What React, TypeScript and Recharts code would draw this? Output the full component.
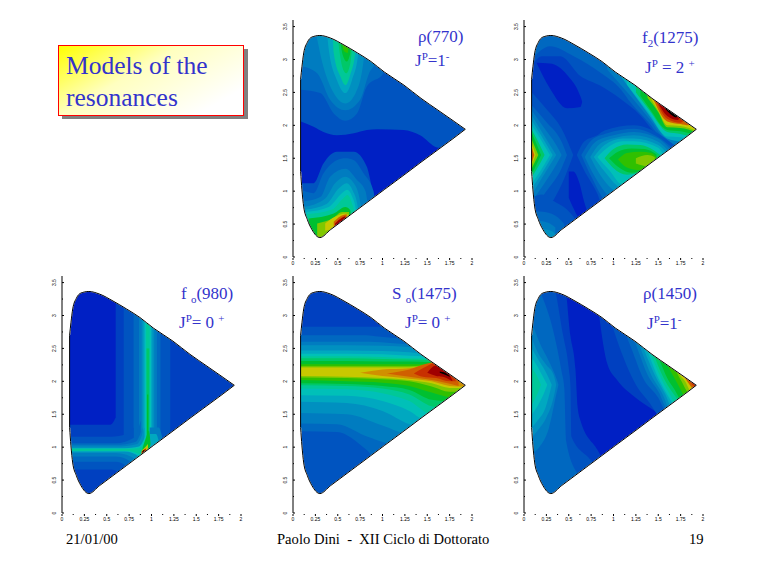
import { Area, ComposedChart, Line, XAxis, YAxis } from "recharts";

type Pt = [number, number, number];
type Band = [number, Pt[]];

const TOP = 3.6;

// colour steps of the map, low to high
const levelColors = [
  "#0020c4", "#0040c0", "#0054c0", "#0068c0", "#007cc0", "#0090c0", "#00a8c0",
  "#00c0b8", "#00c898", "#00c868", "#00c030", "#30c000", "#80c800", "#c8c800",
  "#d09000", "#d06000", "#c83000", "#a00000", "#000000",
];

const xTicks = [0, 0.125, 0.25, 0.375, 0.5, 0.625, 0.75, 0.875, 1, 1.125, 1.25, 1.375, 1.5, 1.625, 1.75, 1.875, 2];
const xLabels = [0, 0.25, 0.5, 0.75, 1, 1.25, 1.5, 1.75, 2];
const yTicks = [0, 0.25, 0.5, 0.75, 1, 1.25, 1.5, 1.75, 2, 2.25, 2.5, 2.75, 3, 3.25, 3.5];
const yLabels = [0, 0.5, 1, 1.5, 2, 2.5, 3, 3.5];

// x, lower edge, upper edge of the allowed region
const boundary: Pt[] = [
  [0.085, 1.3, 2.7], [0.1, 1.02, 2.89], [0.12, 0.76, 3.1], [0.16, 0.57, 3.26], [0.21, 0.42, 3.34],
  [0.3, 0.295, 3.365], [0.42, 0.416, 3.325], [0.57, 0.568, 3.22], [0.72, 0.72, 3.1], [0.87, 0.872, 2.97],
  [1.02, 1.024, 2.81], [1.24, 1.246, 2.61], [1.43, 1.44, 2.41], [1.62, 1.63, 2.23], [1.8, 1.81, 2.06],
  [1.925, 1.94, 1.94],
];
const leftEdge = [{ x: 0.085, y: 1.3 }, { x: 0.085, y: 2.7 }];

const over = (pts: [number, number][]): Pt[] => pts.map(([x, lo]) => [x, lo, TOP]);
const under = (pts: [number, number][]): Pt[] => pts.map(([x, hi]) => [x, 0, hi]);
const full: Pt[] = [[0.088, 0, TOP], [1.92, 0, TOP]];

const rho770Bands: Band[] = [
  [2, full],
  [0, [[0.088, 1.12, 2.06], [0.23, 1.12, 1.98], [0.34, 1.42, 1.9], [0.49, 1.6, 1.85], [0.68, 1.6, 1.88], [0.825, 1.37, 1.93], [0.94, 0.8, 1.94], [1.235, 0.9, 1.93], [1.42, 1.0, 1.85], [1.61, 1.5, 1.665], [1.645, 1.66, 1.66]]],
  [3, over([[0.088, 2.54], [0.305, 2.49], [0.455, 2.18], [0.585, 2.07], [0.715, 2.18], [0.825, 2.59], [1.01, 2.79], [1.05, 3.6]])],
  [4, over([[0.088, 2.9], [0.27, 2.79], [0.415, 2.39], [0.585, 2.23], [0.75, 2.39], [0.85, 2.79], [0.93, 3.0], [0.96, 3.6]])],
  [5, over([[0.23, 3.6], [0.34, 2.89], [0.455, 2.49], [0.585, 2.33], [0.7, 2.49], [0.79, 3.0], [0.83, 3.6]])],
  [6, over([[0.37, 3.6], [0.4, 3.15], [0.49, 2.69], [0.585, 2.49], [0.66, 2.69], [0.73, 3.1], [0.76, 3.6]])],
  [8, over([[0.44, 3.6], [0.455, 3.1], [0.53, 2.74], [0.585, 2.61], [0.64, 2.77], [0.7, 3.15], [0.72, 3.6]])],
  [9, over([[0.48, 3.6], [0.55, 2.89], [0.595, 2.79], [0.64, 2.94], [0.68, 3.6]])],
  [10, over([[0.5, 3.6], [0.56, 3.05], [0.6, 2.97], [0.64, 3.1], [0.66, 3.6]])],
  [11, over([[0.52, 3.6], [0.575, 3.12], [0.61, 3.1], [0.64, 3.6]])],
  [3, under([[0.088, 1.02], [0.23, 0.97], [0.34, 1.27], [0.49, 1.47], [0.585, 1.5], [0.68, 1.47], [0.79, 1.27], [0.9, 1.0], [0.95, 0]])],
  [4, under([[0.1, 0.84], [0.305, 0.91], [0.415, 1.22], [0.585, 1.34], [0.715, 1.17], [0.81, 1.0], [0.88, 0]])],
  [5, under([[0.12, 0.76], [0.36, 0.89], [0.47, 1.12], [0.585, 1.22], [0.68, 1.12], [0.75, 0.84], [0.82, 0]])],
  [6, under([[0.14, 0.72], [0.38, 0.81], [0.51, 1.04], [0.6, 1.12], [0.67, 1.0], [0.72, 0.79], [0.78, 0]])],
  [7, under([[0.15, 0.685], [0.4, 0.76], [0.54, 0.96], [0.605, 1.02], [0.66, 0.92], [0.7, 0.74], [0.74, 0]])],
  [8, under([[0.155, 0.65], [0.435, 0.72], [0.56, 0.89], [0.61, 0.94], [0.66, 0.81], [0.68, 0.71], [0.7, 0]])],
  [10, under([[0.175, 0.585], [0.455, 0.66], [0.585, 0.76], [0.64, 0.71], [0.66, 0]])],
  [12, under([[0.27, 0.51], [0.44, 0.585], [0.55, 0.685], [0.625, 0.685], [0.64, 0]])],
  [13, [[0.36, 0.4, 0.51], [0.47, 0.45, 0.61], [0.585, 0.55, 0.66], [0.62, 0.6, 0.64]]],
  [15, [[0.455, 0.44, 0.535], [0.53, 0.5, 0.62], [0.6, 0.6, 0.65]]],
  [17, [[0.47, 0.45, 0.51], [0.55, 0.53, 0.6], [0.585, 0.58, 0.62]]],
];

const f21275Bands: Band[] = [
  [1, full],
  [0, [[0.14, 2.95, 2.95], [0.29, 2.56, 2.94], [0.48, 2.26, 2.77], [0.63, 2.28, 2.44], [0.65, 2.36, 2.36]]],
  [0, [[0.5, 0.9, 1.3], [0.55, 0.75, 1.3], [0.62, 0.6, 1.12], [0.67, 0.65, 0.85], [0.7, 0.72, 0.72]]],
  [2, over([[0.088, 2.9], [0.2, 3.05], [0.405, 3.05], [0.63, 2.75], [0.855, 2.6], [1.08, 2.4], [1.3, 2.15], [1.45, 1.9], [1.6, 1.65], [1.7, 1.5], [1.92, 1.5]])],
  [3, over([[0.088, 3.0], [0.29, 3.2], [0.555, 3.05], [0.855, 2.8], [1.08, 2.55], [1.2, 2.33], [1.4, 2.03], [1.6, 1.68], [1.66, 1.62], [1.92, 1.5]])],
  [4, over([[0.93, 2.85], [1.2, 2.43], [1.4, 2.1], [1.6, 1.75], [1.72, 1.68], [1.92, 1.6]])],
  [6, over([[1.08, 2.75], [1.2, 2.52], [1.4, 2.15], [1.6, 1.8], [1.75, 1.75], [1.92, 1.7]])],
  [7, over([[1.15, 2.62], [1.4, 2.18], [1.6, 1.83], [1.75, 1.82], [1.92, 1.75]])],
  [9, over([[1.25, 2.5], [1.4, 2.23], [1.6, 1.9], [1.75, 1.87], [1.92, 1.8]])],
  [10, over([[1.3, 2.45], [1.4, 2.26], [1.6, 1.93], [1.75, 1.91], [1.92, 1.85]])],
  [12, over([[1.38, 2.42], [1.5, 2.2], [1.6, 1.97], [1.75, 1.96], [1.92, 1.9]])],
  [13, over([[1.42, 2.4], [1.5, 2.22], [1.6, 2.0], [1.75, 1.99], [1.92, 1.92]])],
  [15, over([[1.45, 2.38], [1.6, 2.06], [1.75, 2.02], [1.84, 2.0], [1.87, 2.2]])],
  [16, over([[1.48, 2.36], [1.6, 2.1], [1.75, 2.04], [1.8, 2.1]])],
  [17, over([[1.5, 2.33], [1.6, 2.14], [1.72, 2.08], [1.76, 2.3]])],
  [18, over([[1.55, 2.3], [1.62, 2.19], [1.7, 2.12], [1.74, 2.3]])],
  [2, [[0.59, 1.55, 1.55], [0.67, 1.32, 1.75], [0.82, 0.96, 1.85], [0.9, 0.7, 1.92], [1.23, 0.7, 2.0], [1.53, 0.7, 1.85], [1.68, 1.6, 1.7]]],
  [3, [[0.64, 1.55, 1.55], [0.76, 1.2, 1.78], [0.93, 0.85, 1.88], [1.23, 0.95, 1.95], [1.5, 1.2, 1.82], [1.64, 1.6, 1.68]]],
  [4, [[0.68, 1.52, 1.52], [0.8, 1.2, 1.75], [1.0, 0.9, 1.85], [1.23, 1.0, 1.9], [1.5, 1.3, 1.8], [1.62, 1.6, 1.66]]],
  [5, [[0.74, 1.52, 1.52], [0.85, 1.25, 1.72], [1.05, 1.0, 1.82], [1.23, 1.1, 1.85], [1.5, 1.4, 1.75], [1.6, 1.6, 1.63]]],
  [6, [[0.78, 1.52, 1.52], [0.9, 1.3, 1.7], [1.1, 1.05, 1.8], [1.23, 1.15, 1.8], [1.5, 1.4, 1.7], [1.58, 1.58, 1.6]]],
  [7, [[0.82, 1.52, 1.52], [0.95, 1.32, 1.68], [1.1, 1.1, 1.76], [1.23, 1.2, 1.76], [1.5, 1.45, 1.66], [1.55, 1.55, 1.57]]],
  [9, [[0.9, 1.5, 1.5], [1.0, 1.35, 1.64], [1.15, 1.25, 1.71], [1.3, 1.3, 1.7], [1.45, 1.45, 1.62], [1.52, 1.53, 1.55]]],
  [10, [[0.95, 1.5, 1.5], [1.05, 1.37, 1.6], [1.2, 1.28, 1.65], [1.35, 1.35, 1.64], [1.48, 1.5, 1.56]]],
  [11, [[1.05, 1.48, 1.48], [1.15, 1.36, 1.58], [1.3, 1.32, 1.6], [1.42, 1.42, 1.58], [1.48, 1.5, 1.52]]],
  [12, [[1.25, 1.42, 1.5], [1.38, 1.38, 1.55], [1.46, 1.46, 1.52]]],
  [2, [[0.088, 0.45, 2.5], [0.25, 0.7, 2.25], [0.42, 1.1, 1.95], [0.55, 1.55, 1.55]]],
  [3, [[0.088, 0.7, 2.3], [0.25, 1.0, 2.05], [0.42, 1.35, 1.75], [0.48, 1.55, 1.55]]],
  [4, [[0.088, 0.85, 2.22], [0.22, 1.1, 1.97], [0.36, 1.4, 1.7], [0.42, 1.55, 1.55]]],
  [5, [[0.088, 0.95, 2.15], [0.2, 1.2, 1.9], [0.36, 1.55, 1.55]]],
  [6, [[0.088, 1.05, 2.07], [0.19, 1.25, 1.85], [0.32, 1.55, 1.55]]],
  [7, [[0.088, 1.12, 2.0], [0.18, 1.3, 1.8], [0.29, 1.55, 1.55]]],
  [9, [[0.088, 1.22, 1.93], [0.14, 1.33, 1.8], [0.23, 1.55, 1.55]]],
  [10, [[0.088, 1.27, 1.88], [0.12, 1.35, 1.78], [0.19, 1.55, 1.55]]],
  [12, [[0.088, 1.35, 1.78], [0.16, 1.55, 1.55]]],
  [13, [[0.088, 1.4, 1.72], [0.13, 1.55, 1.55]]],
  [15, [[0.088, 1.44, 1.66], [0.115, 1.55, 1.55]]],
  [2, under([[0.088, 0.9], [0.2, 0.95], [0.33, 0.85], [0.48, 0.72], [0.56, 0.6]])],
  [3, under([[0.1, 0.7], [0.25, 0.68], [0.38, 0.6], [0.45, 0.5]])],
  [4, under([[0.15, 0.55], [0.27, 0.52], [0.35, 0.45]])],
  [5, under([[0.22, 0.42], [0.3, 0.4], [0.35, 0.35]])],
];

const f0980Bands: Band[] = [
  [1, full],
  [0, [[0.088, 1.34, TOP], [0.54, 1.34, TOP], [0.6, 1.45, TOP]]],
  [2, [[0.69, 0, TOP], [1.21, 0, TOP]]],
  [3, [[0.8, 0, TOP], [1.1, 0, TOP]]],
  [4, [[0.86, 0, TOP], [1.06, 0, TOP]]],
  [5, [[0.89, 0, TOP], [1.03, 0, TOP]]],
  [6, [[0.91, 0, TOP], [1.01, 0, TOP]]],
  [7, [[0.925, 0, TOP], [0.995, 0, TOP]]],
  [8, [[0.94, 0, 2.9], [0.98, 0, 2.9]]],
  [9, [[0.945, 0, 2.5], [0.975, 0, 2.5]]],
  [10, [[0.95, 0, 1.8], [0.965, 0, 1.8]]],
  [2, [[0.088, 0.66, 1.16], [0.55, 0.66, 1.16], [0.72, 0.5, 1.2], [0.8, 0, 1.3]]],
  [3, [[0.088, 0.78, 1.06], [0.6, 0.78, 1.06], [0.8, 0.6, 1.14], [0.88, 0, 1.4]]],
  [4, [[0.088, 0.86, 1.035], [0.6, 0.86, 1.035], [0.82, 0.72, 1.08], [0.9, 0, 1.3]]],
  [5, [[0.088, 0.91, 1.01], [0.6, 0.91, 1.01], [0.84, 0.8, 1.05], [0.92, 0, 1.3]]],
  [7, [[0.088, 0.935, 0.985], [0.7, 0.935, 0.985], [0.86, 0.86, 1.01], [0.94, 0, 1.2]]],
  [8, [[0.088, 0.945, 0.975], [0.7, 0.945, 0.975], [0.86, 0.9, 0.985], [0.94, 0.85, 1.1]]],
  [4, [[0.98, 0.9, 1.3], [1.08, 1.05, 1.3], [1.12, 1.1, 1.15]]],
  [6, [[0.98, 0.95, 1.2], [1.05, 1.05, 1.2], [1.08, 1.08, 1.1]]],
  [10, [[0.9, 0.88, 0.985], [0.94, 0.9, 1.15], [0.97, 0.97, 1.25], [0.99, 1.05, 1.05]]],
  [13, [[0.89, 0.88, 0.95], [0.93, 0.92, 1.0], [0.96, 0.96, 1.05]]],
  [16, [[0.89, 0.9, 0.93], [0.92, 0.93, 0.97], [0.94, 0.95, 0.98]]],
  [18, [[0.9, 0.92, 0.94], [0.92, 0.94, 0.96]]],
];

const so1475Bands: Band[] = [
  [1, full],
  [2, [[0.088, 0, 2.83], [1.3, 0, 2.83]]],
  [3, [[0.088, 1.24, 2.7], [0.49, 1.23, 2.7], [0.82, 0.96, 2.7], [0.95, 0.8, 2.68], [1.92, 0.8, 2.6]]],
  [4, [[0.088, 1.36, 2.6], [0.49, 1.35, 2.6], [0.85, 1.15, 2.6], [1.12, 1.05, 2.58], [1.92, 1.05, 2.5]]],
  [5, [[0.088, 1.52, 2.55], [0.6, 1.5, 2.55], [1.0, 1.33, 2.54], [1.3, 1.2, 2.52], [1.92, 1.2, 2.45]]],
  [6, [[0.088, 1.69, 2.47], [0.6, 1.67, 2.47], [1.0, 1.55, 2.46], [1.3, 1.35, 2.44], [1.45, 1.3, 2.42], [1.92, 1.3, 2.4]]],
  [7, [[0.088, 1.79, 2.42], [0.6, 1.78, 2.42], [1.0, 1.7, 2.41], [1.3, 1.55, 2.39], [1.5, 1.4, 2.38], [1.92, 1.4, 2.3]]],
  [8, [[0.088, 1.89, 2.38], [0.6, 1.88, 2.38], [1.0, 1.82, 2.37], [1.3, 1.7, 2.35], [1.55, 1.5, 2.34], [1.92, 1.5, 2.3]]],
  [9, [[0.088, 1.94, 2.35], [0.6, 1.93, 2.35], [1.0, 1.89, 2.34], [1.3, 1.8, 2.33], [1.55, 1.62, 2.32], [1.65, 1.6, 2.3], [1.92, 1.6, 2.2]]],
  [10, [[0.088, 1.97, 2.31], [0.6, 1.96, 2.31], [1.0, 1.93, 2.3], [1.3, 1.87, 2.3], [1.55, 1.72, 2.29], [1.72, 1.7, 2.28], [1.92, 1.7, 2.2]]],
  [11, [[0.088, 2.02, 2.26], [0.6, 2.0, 2.26], [1.0, 1.98, 2.26], [1.3, 1.93, 2.26], [1.55, 1.83, 2.26], [1.8, 1.75, 2.25], [1.92, 1.8, 2.2]]],
  [12, [[0.088, 2.06, 2.23], [0.6, 2.05, 2.23], [1.0, 2.03, 2.23], [1.3, 2.0, 2.23], [1.55, 1.92, 2.24], [1.75, 1.84, 2.2], [1.85, 1.85, 2.1], [1.92, 1.9, 2.0]]],
  [13, [[0.088, 2.08, 2.21], [0.6, 2.07, 2.21], [1.0, 2.05, 2.21], [1.3, 2.02, 2.21], [1.55, 1.97, 2.23], [1.75, 1.9, 2.2], [1.9, 1.9, 2.0], [1.92, 1.92, 1.96]]],
  [14, [[0.75, 2.13, 2.13], [1.0, 2.08, 2.18], [1.3, 2.04, 2.2], [1.55, 2.0, 2.25], [1.75, 1.93, 2.1], [1.92, 1.92, 1.95]]],
  [15, [[1.05, 2.12, 2.12], [1.3, 2.07, 2.18], [1.5, 2.03, 2.27], [1.7, 1.98, 2.3], [1.85, 1.93, 2.0]]],
  [16, [[1.35, 2.12, 2.12], [1.45, 2.07, 2.2], [1.6, 2.05, 2.28], [1.75, 2.0, 2.2], [1.82, 2.0, 2.0]]],
  [17, [[1.5, 2.13, 2.13], [1.6, 2.08, 2.24], [1.7, 2.06, 2.2], [1.78, 2.0, 2.02]]],
  [18, [[1.64, 2.13, 2.15], [1.7, 2.1, 2.13], [1.75, 2.07, 2.08]]],
];

const rho1450Bands: Band[] = [
  [0, full],
  [1, under([[0.088, TOP], [0.44, TOP], [0.52, 2.68], [0.575, 2.18], [0.6, 1.6], [0.63, 1.41], [0.82, 0.96], [0.93, 0.7]])],
  [2, under([[0.088, TOP], [0.29, TOP], [0.44, 2.68], [0.5, 2.2], [0.52, 1.9], [0.53, 1.16], [0.75, 0.8], [0.83, 0.65], [0.9, 0.3]])],
  [3, under([[0.088, TOP], [0.2, 3.3], [0.33, 2.75], [0.42, 2.15], [0.45, 1.9], [0.47, 1.1], [0.6, 0.6], [0.7, 0.5]])],
  [4, [[0.088, 0.9, 2.9], [0.17, 1.0, 2.6], [0.28, 1.3, 2.3], [0.36, 1.8, 2.05], [0.385, 1.95, 1.95]]],
  [5, [[0.088, 1.15, 2.65], [0.15, 1.25, 2.45], [0.25, 1.45, 2.25], [0.33, 1.75, 2.1], [0.36, 1.95, 1.95]]],
  [6, [[0.088, 1.3, 2.5], [0.15, 1.4, 2.35], [0.24, 1.6, 2.15], [0.31, 1.95, 1.95]]],
  [7, [[0.088, 1.5, 2.35], [0.14, 1.6, 2.25], [0.2, 1.75, 2.1], [0.26, 1.95, 1.95]]],
  [8, [[0.088, 1.65, 2.2], [0.13, 1.75, 2.12], [0.19, 1.95, 1.95]]],
  [1, over([[0.82, 3.2], [0.93, 2.27], [1.04, 2.02], [1.23, 1.77], [1.49, 1.52], [1.92, 1.0]])],
  [2, over([[0.95, 3.0], [1.1, 2.4], [1.25, 1.95], [1.4, 1.68], [1.55, 1.4], [1.92, 1.2]])],
  [3, over([[1.05, 3.0], [1.2, 2.5], [1.33, 2.05], [1.5, 1.75], [1.6, 1.5], [1.92, 1.3]])],
  [4, over([[1.2, 2.75], [1.28, 2.45], [1.38, 2.1], [1.5, 1.85], [1.63, 1.5], [1.92, 1.4]])],
  [5, over([[1.25, 2.7], [1.33, 2.4], [1.42, 2.1], [1.55, 1.8], [1.65, 1.5], [1.92, 1.4]])],
  [6, over([[1.28, 2.7], [1.38, 2.35], [1.46, 2.1], [1.58, 1.8], [1.67, 1.55], [1.92, 1.5]])],
  [7, over([[1.32, 2.7], [1.41, 2.35], [1.5, 2.05], [1.6, 1.8], [1.7, 1.6], [1.92, 1.5]])],
  [8, over([[1.36, 2.6], [1.45, 2.3], [1.53, 2.05], [1.63, 1.8], [1.72, 1.6], [1.92, 1.5]])],
  [9, over([[1.4, 2.6], [1.48, 2.3], [1.56, 2.05], [1.65, 1.85], [1.74, 1.7], [1.92, 1.6]])],
  [10, over([[1.43, 2.6], [1.52, 2.3], [1.6, 2.05], [1.68, 1.88], [1.76, 1.7], [1.92, 1.6]])],
  [11, over([[1.5, 2.5], [1.6, 2.25], [1.68, 2.05], [1.76, 1.85], [1.8, 1.75], [1.92, 1.7]])],
  [12, over([[1.62, 2.4], [1.7, 2.15], [1.76, 2.0], [1.82, 1.85], [1.92, 1.75]])],
  [13, over([[1.68, 2.3], [1.74, 2.1], [1.8, 2.0], [1.85, 1.87], [1.92, 1.8]])],
  [15, over([[1.74, 2.2], [1.8, 2.05], [1.85, 1.95], [1.89, 1.88], [1.92, 1.85]])],
  [16, over([[1.78, 2.15], [1.84, 2.03], [1.88, 1.95], [1.91, 1.91], [1.92, 1.88]])],
  [17, over([[1.84, 2.1], [1.88, 2.0], [1.91, 1.93], [1.92, 1.9]])],
];

const toRows = (pts: Pt[]) => pts.map(([x, lo, hi]) => ({ x, band: [lo, hi] }));
// masks start a little left of the edge so no sliver of colour shows there
const upperMask = [{ x: 0.06, band: [2.7, TOP] }, ...boundary.map(([x, , hi]) => ({ x, band: [hi, TOP] }))];
const lowerMask = [{ x: 0.06, band: [0, 1.3] }, ...boundary.map(([x, lo]) => ({ x, band: [0, lo] }))];
const outline = boundary.map(([x, lo, hi]) => ({ x, band: [lo, hi] }));

const AxisXTick = ({ x, y, payload }: any) => {
  const major = xLabels.includes(payload.value);
  return (
    <g>
      <line x1={x} x2={x} y1={y + 1} y2={y + (major ? 3 : 2)} stroke="#000" />
      {major && (
        <text x={x} y={y + 8} textAnchor="middle" fontSize={5} fontFamily="Liberation Sans" fill="#000">
          {payload.value}
        </text>
      )}
    </g>
  );
};

const AxisYTick = ({ x, y, payload }: any) => {
  const major = yLabels.includes(payload.value);
  return (
    <g>
      <line x1={x} x2={x + (major ? 2 : 1)} y1={y} y2={y} stroke="#000" />
      {major && (
        <text
          x={x - 6}
          y={y}
          textAnchor="middle"
          fontSize={5}
          fontFamily="Liberation Sans"
          fill="#000"
          transform={`rotate(-90 ${x - 6} ${y})`}
        >
          {payload.value}
        </text>
      )}
    </g>
  );
};

function Dalitz({ left, top, bands }: { left: number; top: number; bands: Band[] }) {
  return (
    <div style={{ position: "absolute", left, top }}>
      <ComposedChart width={222} height={254} margin={{ top: 2, right: 13, bottom: 0, left: 0 }}>
        <XAxis
          type="number"
          dataKey="x"
          domain={[0, 2]}
          ticks={xTicks}
          interval={0}
          allowDataOverflow
          axisLine={false}
          tickLine={false}
          tickSize={0}
          tickMargin={0}
          height={15}
          tick={AxisXTick}
        />
        <YAxis
          type="number"
          domain={[0, TOP]}
          ticks={yTicks}
          interval={0}
          allowDataOverflow
          axisLine={{ stroke: "#000" }}
          tickLine={false}
          tickSize={0}
          tickMargin={0}
          width={30}
          tick={AxisYTick}
        />
        {bands.map(([level, pts], i) => (
          <Area
            key={i}
            data={toRows(pts)}
            dataKey="band"
            type="monotone"
            fill={levelColors[level]}
            fillOpacity={1}
            stroke="none"
            dot={false}
            activeDot={false}
            isAnimationActive={false}
          />
        ))}
        <Area data={upperMask} dataKey="band" type="monotone" fill="#fff" fillOpacity={1} stroke="#fff" dot={false} activeDot={false} isAnimationActive={false} />
        <Area data={lowerMask} dataKey="band" type="monotone" fill="#fff" fillOpacity={1} stroke="#fff" dot={false} activeDot={false} isAnimationActive={false} />
        <Area data={outline} dataKey="band" type="monotone" fill="none" stroke="#000" strokeWidth={1} dot={false} activeDot={false} isAnimationActive={false} />
        <Line data={leftEdge} dataKey="y" stroke="#000" strokeWidth={1} dot={false} activeDot={false} isAnimationActive={false} />
      </ComposedChart>
    </div>
  );
}

const ink = "#3333cc";
const serif = "'Liberation Serif', serif";

function Label({ x, y, children }: { x: number; y: number; children: any }) {
  return (
    <div style={{ position: "absolute", left: x, top: y - 15, color: ink, fontFamily: serif, fontSize: 17, lineHeight: "20px", whiteSpace: "pre" }}>
      {children}
    </div>
  );
}

const Up = ({ children }: { children: any }) => (
  <span style={{ fontSize: 11, position: "relative", top: -6 }}>{children}</span>
);
const Down = ({ children }: { children: any }) => (
  <span style={{ fontSize: 11, position: "relative", top: 4 }}>{children}</span>
);

function Footer({ x, children }: { x: number; children: any }) {
  return (
    <div style={{ position: "absolute", left: x, top: 531, color: "#000", fontFamily: serif, fontSize: 14.6, lineHeight: "16px", whiteSpace: "pre" }}>
      {children}
    </div>
  );
}

export default function App() {
  return (
    <div style={{ position: "absolute", left: 0, top: 0, width: 768, height: 576, background: "#fff", overflow: "hidden" }}>
      <div style={{ position: "absolute", left: 62, top: 49, width: 186, height: 70, background: "#808080" }} />
      <div
        style={{
          position: "absolute",
          left: 58,
          top: 45,
          width: 184,
          height: 69,
          border: "1px solid #f00",
          background: "linear-gradient(150deg, #ffff00 0%, #ffffc0 40%, #ffffff 85%)",
        }}
      >
        <div style={{ position: "absolute", left: 7, top: 4, color: ink, fontFamily: serif, fontSize: 25.5, lineHeight: "32px", whiteSpace: "pre" }}>
          {"Models of the\nresonances"}
        </div>
      </div>

      <Dalitz left={263} top={18} bands={rho770Bands} />
      <Dalitz left={494} top={18} bands={f21275Bands} />
      <Dalitz left={32} top={274} bands={f0980Bands} />
      <Dalitz left={263} top={274} bands={so1475Bands} />
      <Dalitz left={494} top={274} bands={rho1450Bands} />

      <Label x={418} y={42}>ρ(770)</Label>
      <Label x={415} y={66}>J<Up>P</Up>=1<Up>-</Up></Label>
      <Label x={642} y={43}>f<Down>2</Down>(1275)</Label>
      <Label x={645} y={73}>J<Up>P</Up> = 2 <Up>+</Up></Label>
      <Label x={181} y={299}>f <Down>o</Down>(980)</Label>
      <Label x={179} y={328}>J<Up>P</Up>= 0 <Up>+</Up></Label>
      <Label x={392} y={299}>S <Down>o</Down>(1475)</Label>
      <Label x={405} y={328}>J<Up>P</Up>= 0 <Up>+</Up></Label>
      <Label x={643} y={299}>ρ(1450)</Label>
      <Label x={647} y={329}>J<Up>P</Up>=1<Up>-</Up></Label>

      <Footer x={66}>21/01/00</Footer>
      <Footer x={277}>{"Paolo Dini  -  XII Ciclo di Dottorato"}</Footer>
      <Footer x={689}>19</Footer>
    </div>
  );
}
